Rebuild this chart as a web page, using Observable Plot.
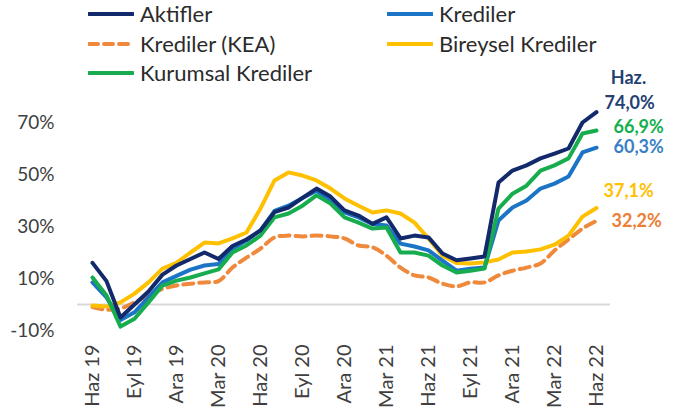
<!DOCTYPE html>
<html><head><meta charset="utf-8">
<script src="https://cdn.jsdelivr.net/npm/d3@7"></script>
<script src="https://cdn.jsdelivr.net/npm/@observablehq/plot@0.6"></script>
<style>
body{margin:0;background:#fff;}
#wrap{position:relative;width:684px;height:420px;font-family:Lato,"Open Sans",sans-serif;}
#wrap svg{position:absolute;left:0;top:0;}
.leg{position:absolute;display:flex;align-items:center;font-size:22px;color:#2b2b2b;white-space:nowrap;line-height:1;}
.leg svg{position:static !important;margin-right:6px;}
</style></head><body><div id="wrap"></div>
<script>
const months = ["Haz 19","Tem 19","Ağu 19","Eyl 19","Eki 19","Kas 19","Ara 19","Oca 20","Şub 20","Mar 20","Nis 20","May 20",
  "Haz 20","Tem 20","Ağu 20","Eyl 20","Eki 20","Kas 20","Ara 20","Oca 21","Şub 21","Mar 21","Nis 21","May 21",
  "Haz 21","Tem 21","Ağu 21","Eyl 21","Eki 21","Kas 21","Ara 21","Oca 22","Şub 22","Mar 22","Nis 22","May 22","Haz 22"];
const tickMonths = ["Haz 19","Eyl 19","Ara 19","Mar 20","Haz 20","Eyl 20","Ara 20","Mar 21","Haz 21","Eyl 21","Ara 21","Mar 22","Haz 22"];
const yTicks = [-10, 10, 30, 50, 70];

const seriesNames = ["Aktifler","Krediler","Krediler (KEA)","Bireysel Krediler","Kurumsal Krediler"];
const aktifler = [16,9,-5,0,5,11.5,15,17.5,20,17.5,22.5,25,28.5,35.5,37.3,41,44.6,41.5,36.2,34.2,31,33.5,25.4,26.5,25.8,19.6,17,17.7,18.5,46.9,51.5,53.5,56.2,58,60,70,74.0];
const krediler = [8.5,2.7,-6,-3,2.7,8.5,11,13.4,15,15.6,21.4,24.6,28.5,36,38,41,43.8,40,35.4,33.5,31,30.4,23.4,22.3,20.8,16.9,13,13.8,14.2,32.3,37.3,40,44.6,46.5,49.2,58.5,60.3];
const kredilerKEA = [-1,-2,-1.5,0.8,3.5,6,7.3,8,8.5,9,14.2,18,21.5,25.8,26.5,26.2,26.5,26.2,25.4,22.7,22,18.8,14.2,11.2,10.4,8,7,8.5,8.5,11.2,13,14.2,15.8,20.8,25,29.2,32.2];
const bireysel = [-0.4,-0.8,0.8,4.2,8.5,13.8,16,20,23.8,23.5,25.4,27.7,36.9,47.7,50.8,49.6,47.7,44.6,40.8,38,35.4,36.2,35,31.5,25.4,18.8,16,15.8,16.2,17.3,20,20.4,21.2,23,26.5,33.8,37.1];
const kurumsal = [10.4,3.5,-8.5,-5.5,0.8,7.3,9.2,10.4,12,13.5,20,22.7,26.5,33.5,35,38,42,38.8,33.5,31.5,29.2,29.6,20,20,18.8,15,12.3,13,13.8,36.9,42.6,45.7,51.5,53.5,56.2,65.8,66.9];

const series = [
  {name: seriesNames[0], values: aktifler, color: "#122a6b", label: "#253f73", dash: null, curve: "linear", lx: 8, ly: -9},
  {name: seriesNames[1], values: krediler, color: "#1b74c6", label: "#3a7fc6", dash: null, curve: "linear", lx: 17, ly: 0},
  {name: seriesNames[2], values: kredilerKEA, color: "#ef8a3d", label: "#ee7d35", dash: "10,6", curve: "catmull-rom", lx: 15, ly: 0},
  {name: seriesNames[3], values: bireysel, color: "#ffc000", label: "#ffc000", dash: null, curve: "linear", lx: 7, ly: -17},
  {name: seriesNames[4], values: kurumsal, color: "#17ad4f", label: "#14b04e", dash: null, curve: "linear", lx: 17, ly: -3}
];
const drawOrder = [2, 3, 1, 4, 0];

const fmt = v => v.toFixed(1).replace(".", ",") + "%";

const marks = [Plot.ruleY([0], {stroke: "#d9d9d9", strokeWidth: 2})];
for (const i of drawOrder) {
  const s = series[i];
  const data = s.values.map((v, k) => ({month: months[k], value: v}));
  marks.push(Plot.line(data, {x: "month", y: "value", stroke: s.color, strokeWidth: 4,
    strokeDasharray: s.dash || undefined, curve: s.curve, strokeLinejoin: "round"}));
}
marks.push(Plot.axisY({ticks: yTicks, tickFormat: d => `${d}%`, tickSize: 0, tickPadding: 23, fontSize: 19, label: null}));
marks.push(Plot.axisX({ticks: tickMonths, tickRotate: -90, tickSize: 0, tickPadding: 14, fontSize: 20, label: null}));
for (const s of series) {
  const last = s.values.length - 1;
  marks.push(Plot.text([{month: months[last], value: s.values[last]}], {
    x: "month", y: "value", text: d => fmt(d.value), fill: s.label, textAnchor: "start",
    dx: s.lx, dy: s.ly, fontSize: 18, fontWeight: "bold"}));
}
marks.push(Plot.text([{month: months[months.length - 1], value: aktifler[aktifler.length - 1]}], {
  x: "month", y: "value", text: () => "Haz.", fill: "#253f73", textAnchor: "middle",
  dx: 32, dy: -34, fontSize: 18, fontWeight: "bold"}));

const chart = Plot.plot({
  width: 684, height: 420,
  marginLeft: 77, marginRight: 74, marginTop: 96, marginBottom: 90,
  x: {type: "point", domain: months, padding: 0},
  y: {domain: [-10, 80]},
  style: {fontFamily: "Lato, 'Open Sans', sans-serif", color: "#404040", background: "transparent"},
  marks
});
const wrap = document.getElementById("wrap");
wrap.appendChild(chart);

series.forEach((s, i) => {
  const col = i % 2, row = Math.floor(i / 2);
  const div = document.createElement("div");
  div.className = "leg";
  div.style.left = (col === 0 ? 88 : 387) + "px";
  div.style.top = (3 + row * 29.5) + "px";
  div.style.height = "22px";
  const sw = `<svg width="46" height="8"><line x1="1" x2="45" y1="4" y2="4" stroke="${s.color}" stroke-width="4" stroke-linecap="round" ${s.dash ? 'stroke-dasharray="9,6"' : ''}/></svg>`;
  div.innerHTML = sw + `<span>${s.name}</span>`;
  wrap.appendChild(div);
});
</script>
</body></html>
